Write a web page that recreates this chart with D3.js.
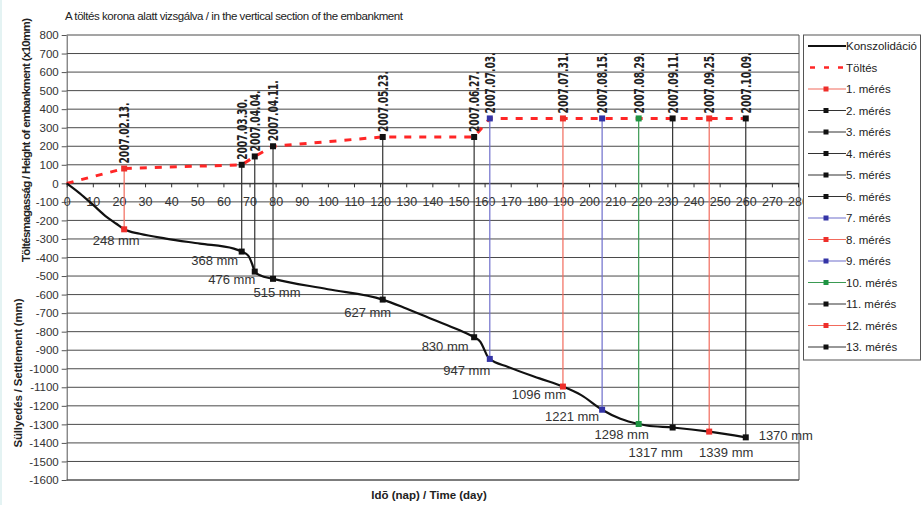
<!DOCTYPE html>
<html><head><meta charset="utf-8">
<script src="https://cdn.jsdelivr.net/npm/d3@7"></script>
<style>
html,body{margin:0;padding:0;background:#fff;}
svg{display:block;font-family:"Liberation Sans",Arial,sans-serif;}
</style></head>
<body><svg id="chart" width="923" height="505"></svg>
<script>
// ---------- DATA ----------
const titleText = "A töltés korona alatt vizsgálva / in the vertical section of the embankment";
const yTitleTop = "Töltésmagasság / Height of embankment (x10mm)";
const yTitleBottom = "Süllyedés / Settlement (mm)";
const xTitle = "Idõ (nap) / Time (day)";

const xTicks = [0,10,20,30,40,50,60,70,80,90,100,110,120,130,140,150,160,170,180,190,200,210,220,230,240,250,260,270,280];
const yTicks = [800,700,600,500,400,300,200,100,0,-100,-200,-300,-400,-500,-600,-700,-800,-900,-1000,-1100,-1200,-1300,-1400,-1500,-1600];

// Konszolidáció (settlement curve)
const konszDays   = [0,5,10,15,19,22,28,38,51,64,67,69.5,71,72,74,79,100,121,130,140,150,156,158.4,160,161,162,169,181,190,197,205,212,219,222,232,246,260];
const konszValues = [0,-54,-115,-178,-218,-248,-272,-298,-325,-352,-368,-390,-435,-476,-496,-515,-571,-627,-675,-733,-790,-830,-855,-900,-930,-947,-990,-1052,-1096,-1142,-1221,-1270,-1298,-1306,-1317,-1339,-1370];

// Töltés (embankment height, x10mm)
const toltesDays   = [0,22,67,72,79,121,156,162,260];
const toltesValues = [0,80,100,145,200,250,250,350,350];

// Measurements
const measNames   = ["1. mérés","2. mérés","3. mérés","4. mérés","5. mérés","6. mérés","7. mérés","8. mérés","9. mérés","10. mérés","11. mérés","12. mérés","13. mérés"];
const measDates   = ["2007.02.13.","2007.03.30.","2007.04.04.","2007.04.11.","2007.05.23.","2007.06.27.","2007.07.03.","2007.07.31.","2007.08.15.","2007.08.29.","2007.09.11.","2007.09.25.","2007.10.09."];
const measDays    = [22,67,72,79,121,156,162,190,205,219,232,246,260];
const measHeights = [80,100,145,200,250,250,350,350,350,350,350,350,350];
const measSettle  = [248,368,476,515,627,830,947,1096,1221,1298,1317,1339,1370];
const measKind    = ["red","dark","dark","dark","dark","dark","blue","red","blue","green","dark","red","dark"];

// ---------- STYLE / LAYOUT ----------
const lineColor   = {red:"#f26a5c", dark:"#333333", blue:"#6e6ecc", green:"#3a9a52"};
const markerColor = {red:"#ee2e2a", dark:"#111111", blue:"#3434a6", green:"#1e9442"};
// settlement label offsets relative to marker [dx (label centre), dy (baseline)]
const labelOffsets = [[-8,16],[-27,13.5],[-23,12.5],[4,18],[-15,17],[-29,14],[-23,16],[-24,12.5],[-30,11],[-17,15],[-17,29.5],[17,25.5],[40,3]];

const svg = d3.select("#chart");
const X0 = 66.7, X1 = 798, YT = 35, YB = 480;
const x = d3.scaleLinear().domain([0,280]).range([X0,X1]);
const y = d3.scaleLinear().domain([-1600,800]).range([YB,YT]);
const plainFmt = d => String(d);

// faint left edge tint
svg.append("rect").attr("x",0).attr("y",0).attr("width",2).attr("height",505).attr("fill","#e4f3f3");

// gridlines
svg.append("g").selectAll("line").data(yTicks).join("line")
  .attr("x1",X0).attr("x2",X1+1).attr("y1",d=>y(d)).attr("y2",d=>y(d))
  .attr("stroke",d=>d===0?"#333":"#4a4a4a").attr("stroke-width",1);

// plot border right/bottom
svg.append("line").attr("x1",X1+1).attr("x2",X1+1).attr("y1",YT).attr("y2",YB).attr("stroke","#555");
svg.append("line").attr("x1",X0).attr("x2",X1+1).attr("y1",YB).attr("y2",YB).attr("stroke","#555");

// y axis
const yAxis = svg.append("g").attr("transform",`translate(${X0},0)`)
  .call(d3.axisLeft(y).tickValues(yTicks).tickSize(5).tickSizeOuter(0).tickPadding(3).tickFormat(plainFmt));
yAxis.select(".domain").attr("stroke","#555");
yAxis.selectAll(".tick line").attr("stroke","#555");
yAxis.selectAll("text").attr("font-size","11.5px").attr("fill","#333").attr("font-family","Liberation Sans, Arial, sans-serif");

// x axis at y=0
const xAxis = svg.append("g").attr("transform",`translate(0,${y(0)})`)
  .call(d3.axisBottom(x).tickValues(xTicks).tickSize(4).tickSizeOuter(0).tickPadding(10).tickFormat(plainFmt));
xAxis.select(".domain").attr("stroke","#333");
xAxis.selectAll(".tick line").attr("stroke","#333");
xAxis.selectAll("text").attr("font-size","12.5px").attr("fill","#333").attr("font-family","Liberation Sans, Arial, sans-serif");

// measurement vertical lines
const meas = measDays.map((d,i)=>({i,day:d,h:measHeights[i],s:-measSettle[i],kind:measKind[i],date:measDates[i],lab:measSettle[i]+" mm"}));
svg.append("g").selectAll("line").data(meas).join("line")
  .attr("x1",d=>x(d.day)).attr("x2",d=>x(d.day))
  .attr("y1",d=>y(d.h)).attr("y2",d=>y(d.s))
  .attr("stroke",d=>lineColor[d.kind]).attr("stroke-width",1.2);

// Töltés dashed
const lineGen = d3.line().x(d=>x(d[0])).y(d=>y(d[1]));
svg.append("path").datum(toltesDays.map((d,i)=>[d,toltesValues[i]]))
  .attr("d",lineGen).attr("fill","none").attr("stroke","#ff2626").attr("stroke-width",3)
  .attr("stroke-dasharray","7,8");

// Konszolidáció curve
const curveGen = d3.line().x(d=>x(d[0])).y(d=>y(d[1])).curve(d3.curveMonotoneX);
svg.append("path").datum(konszDays.map((d,i)=>[d,konszValues[i]]))
  .attr("d",curveGen).attr("fill","none").attr("stroke","#111").attr("stroke-width",2.2);

// markers
const ms = 6;
const mg = svg.append("g");
meas.forEach(d=>{
  [d.h,d.s].forEach(v=>{
    mg.append("rect").attr("x",x(d.day)-ms/2).attr("y",y(v)-ms/2).attr("width",ms).attr("height",ms)
      .attr("fill",markerColor[d.kind]);
  });
});

// date labels
svg.append("g").selectAll("text").data(meas).join("text")
  .attr("transform",d=>`translate(${x(d.day)},${y(d.h)-5}) rotate(-90)`)
  .attr("dy","0.36em").attr("text-anchor","start")
  .attr("font-family","'Liberation Sans Narrow','DejaVu Sans Condensed',Arial,sans-serif")
  .attr("font-weight","bold").attr("font-size","14px").attr("fill","#222")
  .attr("textLength",61).attr("lengthAdjust","spacingAndGlyphs")
  .text(d=>d.date);

// settlement labels
svg.append("g").selectAll("text").data(meas).join("text")
  .attr("x",d=>x(d.day)+labelOffsets[d.i][0]).attr("y",d=>y(d.s)+labelOffsets[d.i][1])
  .attr("text-anchor","middle").attr("font-size","13px").attr("fill","#333")
  .text(d=>d.lab);

// titles
svg.append("text").attr("x",65).attr("y",20).attr("font-size","11.5px").attr("fill","#222")
  .attr("textLength",338).text(titleText);
svg.append("text").attr("transform","translate(29.5,140) rotate(-90)").attr("text-anchor","middle")
  .attr("font-size","11.5px").attr("font-weight","bold").attr("fill","#222")
  .attr("textLength",244).text(yTitleTop);
svg.append("text").attr("transform","translate(22,373) rotate(-90)").attr("text-anchor","middle")
  .attr("font-size","11.5px").attr("font-weight","bold").attr("fill","#222")
  .attr("textLength",149).text(yTitleBottom);
svg.append("text").attr("x",429).attr("y",499).attr("text-anchor","middle")
  .attr("font-size","11.5px").attr("font-weight","bold").attr("fill","#222")
  .text(xTitle);

// legend
const LX = 803.5, LY = 35;
svg.append("rect").attr("x",LX).attr("y",LY).attr("width",117).attr("height",325)
  .attr("fill","#fff").attr("stroke","#555").attr("stroke-width",1);
const legendItems = [{name:"Konszolidáció",type:"konsz"},{name:"Töltés",type:"toltes"}]
  .concat(measNames.map((n,i)=>({name:n,type:"meas",kind:measKind[i]})));
const lg = svg.append("g").selectAll("g").data(legendItems).join("g")
  .attr("transform",(d,i)=>`translate(0,${46+i*21.5})`);
lg.each(function(d){
  const g = d3.select(this);
  if(d.type==="konsz"){
    g.append("line").attr("x1",808).attr("x2",846).attr("y1",0).attr("y2",0).attr("stroke","#111").attr("stroke-width",2);
  } else if(d.type==="toltes"){
    g.append("line").attr("x1",810).attr("x2",846).attr("y1",0).attr("y2",0).attr("stroke","#ff2626").attr("stroke-width",2.5).attr("stroke-dasharray","5,9");
  } else {
    g.append("line").attr("x1",808).attr("x2",846).attr("y1",0).attr("y2",0).attr("stroke",lineColor[d.kind]).attr("stroke-width",1.2);
    g.append("rect").attr("x",826-2.5).attr("y",-2.5).attr("width",5).attr("height",5).attr("fill",markerColor[d.kind]);
  }
  g.append("text").attr("x",846).attr("y",0).attr("dy","0.35em").attr("font-size","11.5px").attr("fill","#222").text(d.name);
});
</script></body></html>
